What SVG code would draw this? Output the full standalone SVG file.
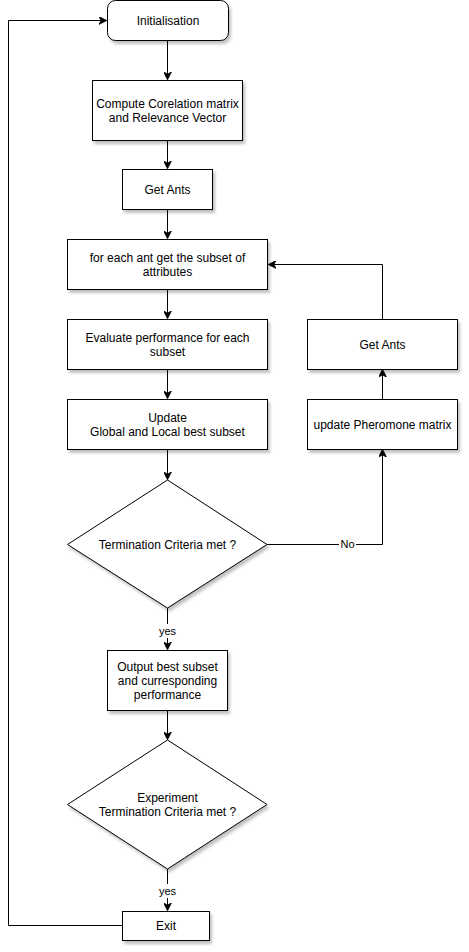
<svg xmlns="http://www.w3.org/2000/svg" width="469" height="952" viewBox="0 0 469 952">
<style>
.n{fill:#fff;stroke:#000;stroke-width:1}
.t{font-family:"Liberation Sans",Arial,sans-serif;font-size:12px;fill:#000;text-anchor:middle;dominant-baseline:central}
.lb{font-family:"Liberation Sans",Arial,sans-serif;font-size:11px;fill:#000;text-anchor:middle;dominant-baseline:central}
.c{fill:none;stroke:#000;stroke-width:1}
</style>
<defs>
<marker id="a" viewBox="0 0 10 10" refX="9" refY="5" markerWidth="8" markerHeight="8" markerUnits="userSpaceOnUse" orient="auto">
<path d="M0,0 L10,5 L0,10 L3,5 z" fill="#000" stroke="#000" stroke-width="1"/>
</marker>
<filter id="s" x="-10%" y="-10%" width="130%" height="130%">
<feDropShadow dx="2" dy="3" stdDeviation="1.5" flood-color="#000" flood-opacity="0.25"/>
</filter>
</defs>
<g id="connectors">
<path class="c" d="M167.5,40 V79" marker-end="url(#a)"/>
<path class="c" d="M167.5,140 V168" marker-end="url(#a)"/>
<path class="c" d="M167.5,209 V238" marker-end="url(#a)"/>
<path class="c" d="M167.5,289 V318" marker-end="url(#a)"/>
<path class="c" d="M167.5,369 V398" marker-end="url(#a)"/>
<path class="c" d="M167.5,449 V479" marker-end="url(#a)"/>
<path class="c" d="M167.5,608 V649" marker-end="url(#a)"/>
<path class="c" d="M167.5,710 V739" marker-end="url(#a)"/>
<path class="c" d="M167.5,869 V910" marker-end="url(#a)"/>
<path class="c" d="M267,544.5 H382.5 V450" marker-end="url(#a)"/>
<path class="c" d="M382.5,399 V370" marker-end="url(#a)"/>
<path class="c" d="M382.5,319 V264.5 H269" marker-end="url(#a)"/>
<path class="c" d="M122,925.5 H8.5 V20.5 H106" marker-end="url(#a)"/>
<rect x="339" y="537" width="17" height="14" fill="#fff"/>
<text class="lb" x="347.5" y="544">No</text>
<rect x="157" y="624" width="21" height="14" fill="#fff"/>
<text class="lb" x="167.5" y="631">yes</text>
<rect x="157" y="884" width="21" height="14" fill="#fff"/>
<text class="lb" x="167.5" y="891">yes</text>
</g>
<g id="init"><rect class="n" x="107.5" y="0.5" width="121" height="40" rx="8" filter="url(#s)"/>
<text class="t" x="168" y="20.5">Initialisation</text></g>
<g id="compute"><rect class="n" x="92.5" y="80.5" width="150" height="60" filter="url(#s)"/>
<text class="t" x="167.5" y="104">Compute Corelation matrix</text>
<text class="t" x="167.5" y="118">and Relevance Vector</text></g>
<g id="getants1"><rect class="n" x="122.5" y="169.5" width="90" height="40" filter="url(#s)"/>
<text class="t" x="167.5" y="189.5">Get Ants</text></g>
<g id="foreach"><rect class="n" x="67.5" y="239.5" width="200" height="50" filter="url(#s)"/>
<text class="t" x="167.5" y="258">for each ant get the subset of</text>
<text class="t" x="167.5" y="272">attributes</text></g>
<g id="evaluate"><rect class="n" x="67.5" y="319.5" width="200" height="50" filter="url(#s)"/>
<text class="t" x="167.5" y="338">Evaluate performance for each</text>
<text class="t" x="167.5" y="352">subset</text></g>
<g id="update"><rect class="n" x="67.5" y="399.5" width="200" height="50" filter="url(#s)"/>
<text class="t" x="167.5" y="418">Update</text>
<text class="t" x="167.5" y="432">Global and Local best subset</text></g>
<g id="getants2"><rect class="n" x="307.5" y="319.5" width="150" height="50" filter="url(#s)"/>
<text class="t" x="382.5" y="345">Get Ants</text></g>
<g id="pheromone"><rect class="n" x="307.5" y="399.5" width="150" height="50" filter="url(#s)"/>
<text class="t" x="382.5" y="425">update Pheromone matrix</text></g>
<g id="term"><path class="n" d="M167.5,480 L267,544.5 L167.5,608 L67.5,544.5 Z" filter="url(#s)"/>
<text class="t" x="167.5" y="544.5">Termination Criteria met ?</text></g>
<g id="output"><rect class="n" x="107.5" y="650.5" width="120" height="60" filter="url(#s)"/>
<text class="t" x="167.5" y="667">Output best subset</text>
<text class="t" x="167.5" y="681">and curresponding</text>
<text class="t" x="167.5" y="695">performance</text></g>
<g id="expterm"><path class="n" d="M167.5,740 L267,804.5 L167.5,869 L67.5,804.5 Z" filter="url(#s)"/>
<text class="t" x="167.5" y="798">Experiment</text>
<text class="t" x="167.5" y="812">Termination Criteria met ?</text></g>
<g id="exit"><rect class="n" x="122.5" y="911.5" width="87" height="29" filter="url(#s)"/>
<text class="t" x="166" y="926">Exit</text></g>
</svg>
